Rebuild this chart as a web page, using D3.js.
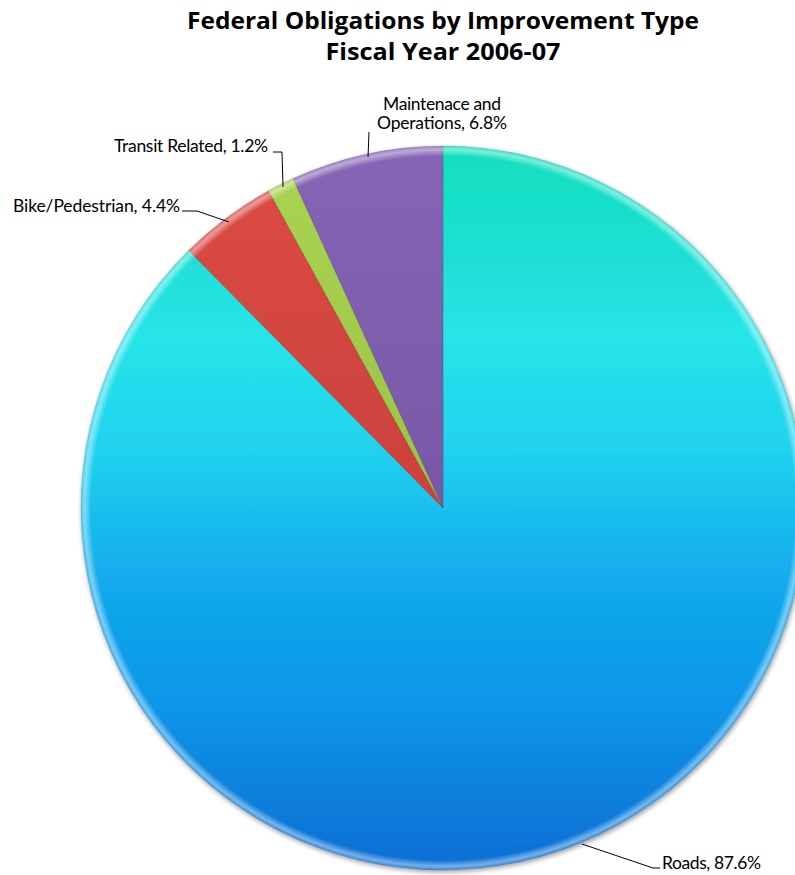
<!DOCTYPE html>
<html><head><meta charset="utf-8">
<script src="https://cdn.jsdelivr.net/npm/d3@7"></script>
<style>body{margin:0;background:#fff;} svg{display:block;}</style>
</head><body>
<svg id="c" width="795" height="875"></svg>
<script>
const categories = ["Roads", "Bike/Pedestrian", "Transit Related", "Maintenace and Operations"];
const values = [87.6, 4.4, 1.2, 6.8];
const labelLines = [["Roads, 87.6%"], ["Bike/Pedestrian, 4.4%"], ["Transit Related, 1.2%"], ["Maintenace and", "Operations, 6.8%"]];
const titleLines = ["Federal Obligations by Improvement Type", "Fiscal Year 2006-07"];

const svg = d3.select("#c");
const cx = 443, cy = 508, R = 362;
const defs = svg.append("defs");

const gradStops = [
  [["0", "#10dfbd"], ["0.18", "#21e0da"], ["0.26", "#27e5e8"], ["0.42", "#20d2ef"], ["0.6", "#12aaec"], ["0.77", "#0d96e8"], ["0.95", "#0a76d8"], ["1", "#0a6cd2"]],
  [["0", "#dd4a44"], ["1", "#b83a36"]],
  [["0", "#aad450"], ["1", "#8ab040"]],
  [["0", "#8664b6"], ["1", "#6a4c96"]]
];
gradStops.forEach((stops, i) => {
  const g = defs.append("linearGradient").attr("id", "g" + i)
    .attr("gradientUnits", "userSpaceOnUse")
    .attr("x1", 0).attr("x2", 0).attr("y1", -R).attr("y2", R);
  stops.forEach(s => g.append("stop").attr("offset", s[0]).attr("stop-color", s[1]));
});
const rim = defs.append("radialGradient").attr("id", "rim")
  .attr("gradientUnits", "userSpaceOnUse").attr("cx", 0).attr("cy", 0).attr("r", R);
rim.append("stop").attr("offset", "0.972").attr("stop-color", "#fff").attr("stop-opacity", 0);
rim.append("stop").attr("offset", "0.99").attr("stop-color", "#fff").attr("stop-opacity", 0.45);
rim.append("stop").attr("offset", "1").attr("stop-color", "#fff").attr("stop-opacity", 0.2);

const sh = defs.append("filter").attr("id", "sh").attr("x", "-10%").attr("y", "-10%").attr("width", "120%").attr("height", "120%");
sh.append("feGaussianBlur").attr("in", "SourceAlpha").attr("stdDeviation", 2.5);
sh.append("feOffset").attr("dx", 1).attr("dy", 2).attr("result", "b");
sh.append("feComponentTransfer").append("feFuncA").attr("type", "linear").attr("slope", 0.4);
const mg = sh.append("feMerge"); mg.append("feMergeNode"); mg.append("feMergeNode").attr("in", "SourceGraphic");

const pie = d3.pie().sort(null).value(d => d)(values);
const arc = d3.arc().innerRadius(0).outerRadius(R);
const g = svg.append("g").attr("transform", `translate(${cx},${cy})`).attr("filter", "url(#sh)");
g.selectAll("path.s").data(pie).join("path").attr("class", "s")
  .attr("d", arc).attr("fill", (d, i) => `url(#g${i})`)
  .attr("stroke", "rgba(0,0,0,0.12)").attr("stroke-width", 1);
g.selectAll("path.r").data(pie).join("path").attr("class", "r")
  .attr("d", arc).attr("fill", "url(#rim)");

const titleFont = "'Open Sans', Lato, sans-serif";
const labelFont = "Lato, 'Open Sans', sans-serif";
const titleSpec = [{y: 29, len: 512}, {y: 60, len: 235}];
svg.append("g").selectAll("text").data(titleLines).join("text")
  .attr("x", 443).attr("y", (d, i) => titleSpec[i].y).attr("text-anchor", "middle")
  .attr("font-family", titleFont).attr("font-weight", "bold").attr("font-size", 23).attr("fill", "#000")
  .attr("textLength", (d, i) => titleSpec[i].len).attr("lengthAdjust", "spacingAndGlyphs")
  .text(d => d);

const lab = [
  {x: 662, ys: [869], anchor: "start", lens: [99], line: [[582, 844], [653, 868], [660, 868]]},
  {x: 180, ys: [212], anchor: "end", lens: [167], line: [[229, 222], [197, 211], [182, 211]]},
  {x: 268, ys: [152], anchor: "end", lens: [154], line: [[283, 187], [282, 152], [273, 152]]},
  {x: 442, ys: [110, 129], anchor: "middle", lens: [118, 130], line: [[368, 157], [369, 132]]}
];
const lg = svg.append("g");
lab.forEach((L, i) => {
  lg.append("path").attr("d", d3.line()(L.line)).attr("fill", "none").attr("stroke", "#000").attr("stroke-width", 1);
  labelLines[i].forEach((s, j) => {
    lg.append("text").attr("font-family", labelFont).attr("font-size", 17.5).attr("fill", "#000")
      .attr("text-anchor", L.anchor).attr("x", L.x).attr("y", L.ys[j])
      .attr("textLength", L.lens[j]).attr("lengthAdjust", "spacing").text(s);
  });
});
</script>
</body></html>
